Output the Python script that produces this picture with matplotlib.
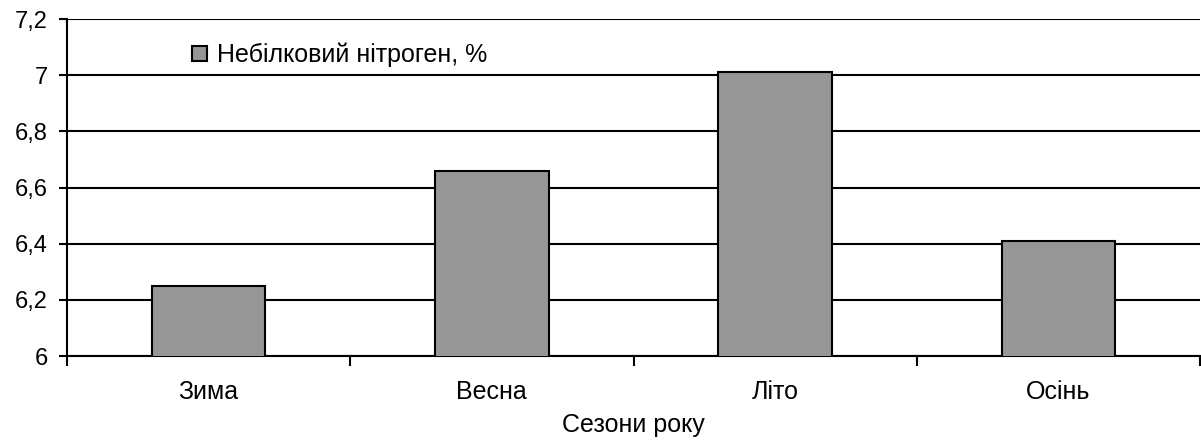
import numpy as np
import matplotlib
matplotlib.use('Agg')
import matplotlib.pyplot as plt
from matplotlib.ticker import FuncFormatter

plt.rcParams['font.family'] = ['Liberation Sans', 'DejaVu Sans']

seasons = ['Зима', 'Весна', 'Літо', 'Осінь']
values = [6.25, 6.66, 7.01, 6.41]
series_name = 'Небілковий нітроген, %'
y_ticks = [6.0, 6.2, 6.4, 6.6, 6.8, 7.0, 7.2]

fs = 18

fig = plt.figure(figsize=(12.01, 4.42), dpi=100)
ax = fig.add_axes([67 / 1201, 86 / 442, 1133 / 1201, 337 / 442])

x = np.arange(len(seasons))
bars = ax.bar(x, values, width=0.4, color='#969696', edgecolor='black',
              linewidth=1.5, zorder=3, label=series_name)

ax.set_ylim(6.0, 7.2)
ax.set_xlim(-0.5, len(seasons) - 0.5)
ax.set_yticks(y_ticks)
ax.yaxis.set_major_formatter(FuncFormatter(
    lambda v, p: ('%g' % round(v, 1)).replace('.', ',')))
ax.yaxis.grid(True, color='black', linewidth=1.5, zorder=0)

# category boundaries as major ticks, labels on minor ticks
ax.set_xticks(np.arange(-0.5, len(seasons), 1.0))
ax.set_xticklabels([])
ax.set_xticks(x, minor=True)
ax.set_xticklabels(seasons, minor=True)
ax.tick_params(axis='x', which='major', length=7, width=1.5, direction='out')
ax.tick_params(axis='x', which='minor', length=0, pad=17, labelsize=fs)
ax.tick_params(axis='y', length=6, width=1.5, labelsize=17, pad=8)

for s in ['top', 'right']:
    ax.spines[s].set_visible(False)
for s in ['left', 'bottom']:
    ax.spines[s].set_linewidth(1.5)

ax.set_xlabel('Сезони року', fontsize=fs, labelpad=7)

ax.legend(loc='center left', bbox_to_anchor=(0.11, 0.893), frameon=False,
          fontsize=fs, handlelength=0.6, handleheight=0.6,
          handletextpad=0.4, borderpad=0, borderaxespad=0)

fig.savefig('out.png', dpi=100)
